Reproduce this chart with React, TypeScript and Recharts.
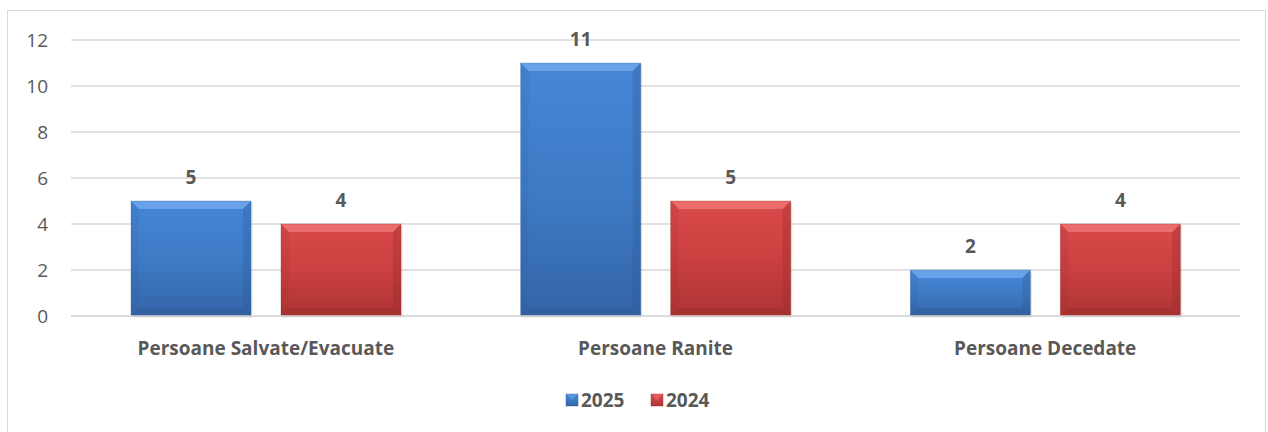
import React from 'react';
import { BarChart, Bar, XAxis, YAxis, CartesianGrid, LabelList } from 'recharts';

const categories = ['Persoane Salvate/Evacuate', 'Persoane Ranite', 'Persoane Decedate'];
const values2025 = [5, 11, 2];
const values2024 = [4, 5, 4];
const yTicks = [0, 2, 4, 6, 8, 10, 12];
const seriesNames = ['2025', '2024'];

const data = categories.map((c, i) => ({ name: c, y2025: values2025[i], y2024: values2024[i] }));

const FONT = "'Open Sans', 'Noto Sans', sans-serif";
const TEXT = '#595959';

const palette: Record<string, { top: string; mid: string; bot: string; light: string; dark: string }> = {
  blue: { top: '#4686D6', mid: '#3E7BC6', bot: '#3465A8', light: '#72A9EE', dark: '#2B5590' },
  red: { top: '#DA4A4A', mid: '#CB4040', bot: '#AE3434', light: '#F07676', dark: '#8E2828' },
};

const makeShape = (key: string) => (props: any) => {
  const { x, y, width, height } = props;
  if (!height || height <= 0) return null;
  const p = palette[key];
  const b = Math.min(8, height / 3, width / 3);
  return (
    <g>
      <rect x={x + 1.5} y={y + 1.5} width={width} height={height} fill="rgba(0,0,0,0.12)" />
      <rect x={x} y={y} width={width} height={height} fill={`url(#grad-${key})`} />
      <polygon points={`${x},${y} ${x + width},${y} ${x + width - b},${y + b} ${x + b},${y + b}`} fill={p.light} opacity={0.8} />
      <polygon points={`${x},${y} ${x + b},${y + b} ${x + b},${y + height - b} ${x},${y + height}`} fill={p.dark} opacity={0.12} />
      <polygon points={`${x + width},${y} ${x + width - b},${y + b} ${x + width - b},${y + height - b} ${x + width},${y + height}`} fill={p.dark} opacity={0.28} />
      <polygon points={`${x},${y + height} ${x + b},${y + height - b} ${x + width - b},${y + height - b} ${x + width},${y + height}`} fill={p.dark} opacity={0.3} />
      <rect x={x} y={y} width={width} height={height} fill="none" stroke={p.dark} strokeOpacity={0.35} strokeWidth={0.8} />
    </g>
  );
};

const LegendSquare = ({ k, x, y }: { k: string; x: number; y: number }) => {
  const p = palette[k];
  return (
    <g>
      <rect x={x} y={y} width={12} height={12} fill={`url(#grad-${k})`} stroke={p.dark} strokeOpacity={0.5} strokeWidth={0.8} />
      <polygon points={`${x},${y} ${x + 12},${y} ${x + 6},${y + 6}`} fill={p.light} opacity={0.5} />
    </g>
  );
};

export default function App() {
  return (
    <div style={{ position: 'absolute', left: 0, top: 0, width: 1268, height: 432, background: '#fff' }}>
      <div style={{ position: 'absolute', left: 7, top: 10, width: 1259, height: 430, border: '1px solid #D9D9D9', boxSizing: 'border-box' }} />
      <div style={{ position: 'absolute', left: 0, top: 0 }}>
        <BarChart
          width={1268}
          height={432}
          data={data}
          margin={{ top: 40, right: 28, left: 11, bottom: 76 }}
          barCategoryGap={60}
          barGap={30}
        >
          <defs>
            {Object.keys(palette).map((k) => (
              <linearGradient key={k} id={`grad-${k}`} x1="0" y1="0" x2="0" y2="1">
                <stop offset="0%" stopColor={palette[k].top} />
                <stop offset="50%" stopColor={palette[k].mid} />
                <stop offset="100%" stopColor={palette[k].bot} />
              </linearGradient>
            ))}
          </defs>
          <CartesianGrid vertical={false} stroke="#D9D9D9" strokeWidth={1.5} />
          <XAxis
            dataKey="name"
            axisLine={{ stroke: '#D9D9D9', strokeWidth: 1.5 }}
            tickLine={false}
            tickSize={0}
            tickMargin={26}
            height={40}
            tick={{ fill: TEXT, fontSize: 19, fontWeight: 700, fontFamily: FONT }}
          />
          <YAxis
            domain={[0, 12]}
            ticks={yTicks}
            axisLine={false}
            tickLine={false}
            tickSize={0}
            tickMargin={23}
            width={60}
            tick={{ fill: TEXT, fontSize: 19, fontFamily: FONT }}
          />
          <Bar dataKey="y2025" name={seriesNames[0]} isAnimationActive={false} shape={makeShape('blue')}>
            <LabelList dataKey="y2025" position="top" offset={17} fill={TEXT} fontSize={19} fontWeight={700} fontFamily={FONT} />
          </Bar>
          <Bar dataKey="y2024" name={seriesNames[1]} isAnimationActive={false} shape={makeShape('red')}>
            <LabelList dataKey="y2024" position="top" offset={17} fill={TEXT} fontSize={19} fontWeight={700} fontFamily={FONT} />
          </Bar>
          <g>
            <LegendSquare k="blue" x={566} y={394} />
            <text x={581} y={407} fill={TEXT} fontSize={19} fontWeight={700} fontFamily={FONT}>{seriesNames[0]}</text>
            <LegendSquare k="red" x={651} y={394} />
            <text x={666} y={407} fill={TEXT} fontSize={19} fontWeight={700} fontFamily={FONT}>{seriesNames[1]}</text>
          </g>
        </BarChart>
      </div>
    </div>
  );
}
